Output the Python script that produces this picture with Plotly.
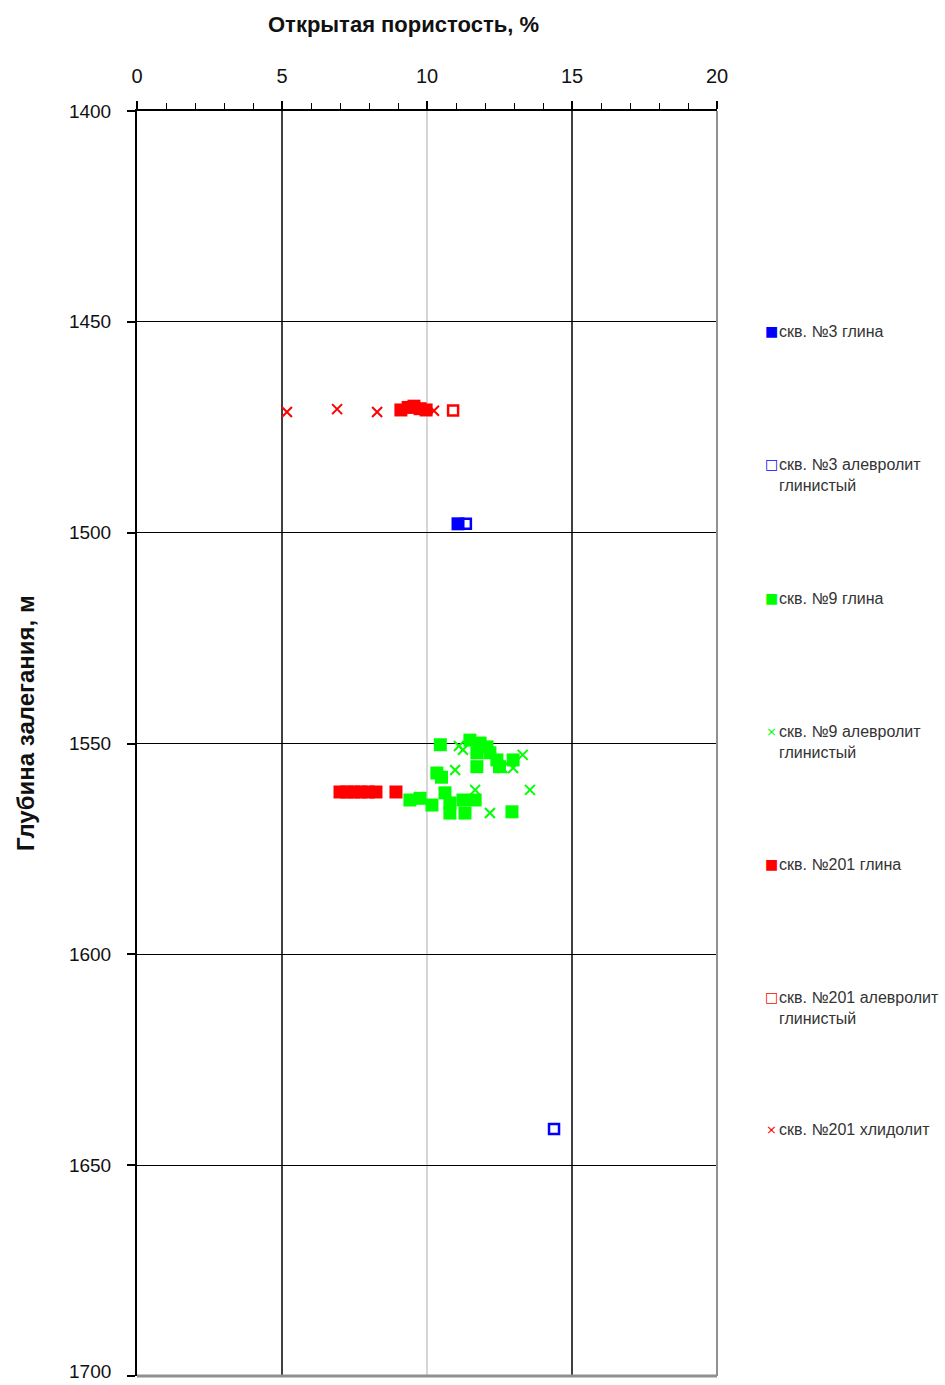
import plotly.graph_objects as go

# Открытая пористость (%) и глубина (м) по скважинам и литотипам
s3_clay_x = [11.07]
s3_clay_y = [1497.9]

s3_silt_x = [11.34, 14.38]
s3_silt_y = [1497.9, 1641.4]

s9_clay_x = [10.46, 11.48, 11.83, 12.07, 11.72, 12.17, 12.41, 12.5, 12.97, 11.72,
             10.34, 10.5, 9.41, 9.76, 10.17, 10.62, 10.79, 10.79, 11.24, 11.31,
             11.66, 12.93]
s9_clay_y = [1550.3, 1549.2, 1549.9, 1550.8, 1552.2, 1552.2, 1553.9, 1555.5, 1553.9, 1555.5,
             1557.0, 1558.0, 1563.4, 1563.0, 1564.6, 1561.7, 1564.1, 1566.5, 1563.4, 1566.5,
             1563.4, 1566.2]

s9_silt_x = [11.1, 11.24, 10.97, 13.3, 12.6, 12.97, 11.66, 13.55, 12.17]
s9_silt_y = [1550.6, 1551.5, 1556.3, 1552.7, 1555.8, 1555.8, 1561.0, 1561.0, 1566.5]

s201_clay_x = [9.1, 9.35, 9.55, 9.76, 9.97, 7.0, 7.24, 7.48, 7.72, 7.97, 8.24, 8.93]
s201_clay_y = [1470.9, 1470.3, 1470.0, 1470.6, 1470.9, 1561.5, 1561.5, 1561.5, 1561.5, 1561.5, 1561.5, 1561.5]

s201_silt_x = [10.9]
s201_silt_y = [1471.0]

s201_halite_x = [5.17, 6.9, 8.28, 10.24]
s201_halite_y = [1471.4, 1470.7, 1471.4, 1471.1]

# Шкала глубин
depth_ticks = [1400, 1450, 1500, 1550, 1600, 1650, 1700]

series = [
    ("скв. №3 глина", s3_clay_x, s3_clay_y, "#0000FF", "square", 13, 0),
    ("скв. №3 алевролит<br>глинистый", s3_silt_x, s3_silt_y, "#0000FF", "square-open", 10, 2.5),
    ("скв. №9 глина", s9_clay_x, s9_clay_y, "#00FF00", "square", 13, 0),
    ("скв. №9 алевролит<br>глинистый", s9_silt_x, s9_silt_y, "#00FF00", "x-thin-open", 10, 2),
    ("скв. №201 глина", s201_clay_x, s201_clay_y, "#FF0000", "square", 13, 0),
    ("скв. №201 алевролит<br>глинистый", s201_silt_x, s201_silt_y, "#FF0000", "square-open", 10, 2.5),
    ("скв. №201 хлидолит", s201_halite_x, s201_halite_y, "#FF0000", "x-thin-open", 10, 2),
]
legend_glyph = {"square": "■", "square-open": "□", "x-thin-open": "×"}
legend_y = [331, 464, 598, 731, 864, 997, 1129]

FONT = "Liberation Sans, Arial, sans-serif"
W, H = 945, 1385
L, R, T, B = 137, 228, 111, 9
PW, PH = W - L - R, H - T - B


def px_x(p):
    return (p - L) / PW


def px_y(p):
    return 1 - (p - T) / PH


fig = go.Figure()
for name, xs, ys, color, sym, size, lw in series:
    fig.add_trace(go.Scatter(
        x=xs, y=ys, mode="markers", name=name, showlegend=False,
        marker=dict(symbol=sym, size=size, color=color,
                    line=dict(color=color, width=lw)),
    ))

# Легенда справа: значок серии и подпись
for (name, xs, ys, color, sym, size, lw), py in zip(series, legend_y):
    fig.add_annotation(
        xref="paper", yref="paper", x=px_x(771), y=px_y(py),
        xanchor="center", yanchor="middle", showarrow=False,
        text=legend_glyph[sym],
        font=dict(family="DejaVu Sans, sans-serif", size=14 if sym != "x-thin-open" else 13,
                  color=color),
    )
    fig.add_annotation(
        xref="paper", yref="paper", x=px_x(777), y=px_y(py),
        xanchor="left", yanchor="top", yshift=10, align="left", showarrow=False,
        text=name,
        font=dict(family=FONT, size=16, color="#333333"),
    )

# Подписи осей
fig.add_annotation(
    xref="paper", yref="paper", x=px_x(403), y=px_y(25),
    xanchor="center", yanchor="middle", showarrow=False,
    text="<b>Открытая пористость, %</b>", font=dict(family=FONT, size=22, color="#111111"),
)
fig.add_annotation(
    xref="paper", yref="paper", x=px_x(25), y=px_y(723),
    xanchor="center", yanchor="middle", showarrow=False, textangle=-90,
    text="<b>Глубина залегания, м</b>", font=dict(family=FONT, size=24, color="#111111"),
)

# Нижняя подпись шкалы глубин у самого края страницы
fig.add_annotation(
    xref="paper", yref="y", x=0, y=depth_ticks[-1], xshift=-24,
    xanchor="right", yanchor="bottom", yshift=-8, showarrow=False,
    text=str(depth_ticks[-1]), font=dict(family=FONT, size=19, color="#111111"),
)

# Вертикальные линии сетки
for xv, col in [(5, "#000000"), (10, "#C8C8C8"), (15, "#000000")]:
    fig.add_shape(type="line", xref="x", yref="paper", x0=xv, x1=xv, y0=0, y1=1,
                  line=dict(color=col, width=1.5), layer="below")
# Правая и нижняя границы области построения
fig.add_shape(type="line", xref="paper", yref="paper", x0=1, x1=1, y0=0, y1=1,
              line=dict(color="#909090", width=2))
fig.add_shape(type="line", xref="paper", yref="paper", x0=0, x1=1, y0=0, y1=0,
              line=dict(color="#909090", width=3))

fig.update_layout(
    width=W, height=H,
    margin=dict(l=L, r=R, t=T, b=B),
    paper_bgcolor="white", plot_bgcolor="white",
    font=dict(family=FONT, size=20, color="#111111"),
    xaxis=dict(
        side="top", range=[0, 20], dtick=5, showgrid=False, zeroline=False,
        showline=True, linecolor="#000000", linewidth=2, automargin=False,
        ticks="outside", ticklen=8, tickcolor="#000000", tickwidth=1.5,
        minor=dict(dtick=1, ticks="outside", ticklen=6, tickcolor="#000000", tickwidth=1.2),
        tickfont=dict(size=20), ticklabelstandoff=10,
    ),
    yaxis=dict(
        range=[depth_ticks[-1], depth_ticks[0]], tickmode="array", tickvals=depth_ticks,
        ticktext=[str(v) for v in depth_ticks[:-1]] + [""],
        showgrid=True, gridcolor="#000000", gridwidth=1.2,
        zeroline=False, showline=True, linecolor="#000000", linewidth=2, automargin=False,
        ticks="outside", ticklen=8, tickcolor="#000000", tickwidth=1.5,
        tickfont=dict(size=19), ticklabelstandoff=12,
    ),
)

fig.write_html("out.html")
